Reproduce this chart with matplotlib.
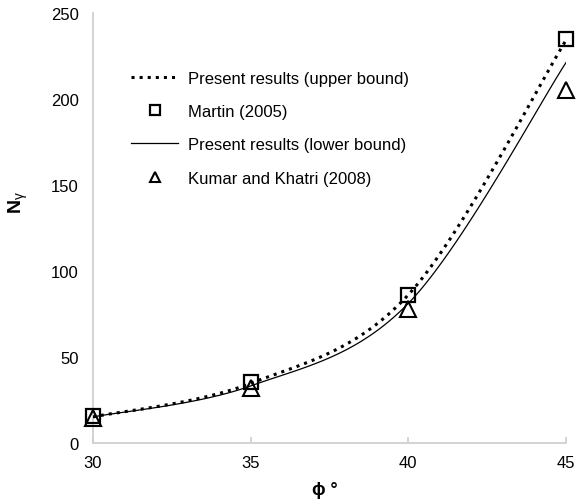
import numpy as np
import matplotlib.pyplot as plt

plt.rcParams['font.family'] = ['Liberation Sans', 'DejaVu Sans']
plt.rcParams['mathtext.fontset'] = 'custom'
plt.rcParams['mathtext.rm'] = 'Liberation Sans'
plt.rcParams['mathtext.it'] = 'Liberation Sans'
plt.rcParams['mathtext.bf'] = 'Liberation Sans:bold'

# Data
phi = [30, 35, 40, 45]
upper = [15, 34.5, 86, 234]      # present results, upper bound
lower = [15, 33, 81, 221]        # present results, lower bound
martin = [15.3, 35.5, 86, 234.5] # Martin (2005)
kumar = [14.4, 32, 78, 205]      # Kumar and Khatri (2008)


def smooth(x, y, n=40):
    # Excel-like smoothed line (Catmull-Rom as cubic Bezier)
    x = np.asarray(x, float)
    y = np.asarray(y, float)
    P = np.column_stack([x, y])
    P = np.vstack([P[0], P, P[-1]])
    out = []
    t = np.linspace(0, 1, n)[:, None]
    for i in range(1, len(P) - 2):
        p0, p1, p2, p3 = P[i - 1], P[i], P[i + 1], P[i + 2]
        c1 = p1 + (p2 - p0) / 6
        c2 = p2 - (p3 - p1) / 6
        seg = ((1 - t) ** 3) * p1 + 3 * ((1 - t) ** 2) * t * c1 \
            + 3 * (1 - t) * t ** 2 * c2 + t ** 3 * p2
        out.append(seg if i == 1 else seg[1:])
    out = np.vstack(out)
    return out[:, 0], out[:, 1]


fig = plt.figure(figsize=(5.8, 5.02), dpi=100)
ax = fig.add_axes([0.160, 0.116, 0.816, 0.857])

ux, uy = smooth(phi, upper)
lx, ly = smooth(phi, lower)
ax.plot(ux, uy, color='black', linestyle=':', linewidth=2.2,
        label='Present results (upper bound)', zorder=3)
ax.plot(phi, martin, linestyle='none', marker='s', markersize=10,
        markerfacecolor='none', markeredgecolor='black', markeredgewidth=1.6,
        label='Martin (2005)', zorder=4, clip_on=False)
ax.plot(lx, ly, color='black', linestyle='-', linewidth=0.9,
        label='Present results (lower bound)', zorder=3)
ax.plot(phi, kumar, linestyle='none', marker='^', markersize=11,
        markerfacecolor='none', markeredgecolor='black', markeredgewidth=1.5,
        label='Kumar and Khatri (2008)', zorder=4, clip_on=False)

ax.set_xlim(30, 45)
ax.set_ylim(0, 250)
ax.set_xticks([30, 35, 40, 45])
ax.set_yticks([0, 50, 100, 150, 200, 250])

for s in ['top', 'right']:
    ax.spines[s].set_visible(False)
for s in ['left', 'bottom']:
    ax.spines[s].set_color('#d0d0d0')
    ax.spines[s].set_linewidth(1.3)

ax.tick_params(axis='x', direction='in', length=4, width=1.3, color='#d0d0d0',
               labelsize=12, pad=9)
ax.tick_params(axis='y', length=0, labelsize=12, pad=10)

ax.set_ylabel(r'$\mathbf{N}_{\gamma}$', fontsize=14)
ax.yaxis.label.set_verticalalignment('center')
ax.yaxis.set_label_coords(-0.158, 0.56)
ax.set_xlabel('ϕ °', fontsize=13, fontweight='bold',
              family=['Liberation Sans', 'DejaVu Sans'])
ax.xaxis.set_label_coords(0.49, -0.088)

leg = ax.legend(loc='upper left', bbox_to_anchor=(0.05, 0.9), frameon=False,
                fontsize=12, handlelength=2.8, handletextpad=0.6,
                labelspacing=1.1, markerscale=0.7)

fig.savefig('out.png', dpi=100)
